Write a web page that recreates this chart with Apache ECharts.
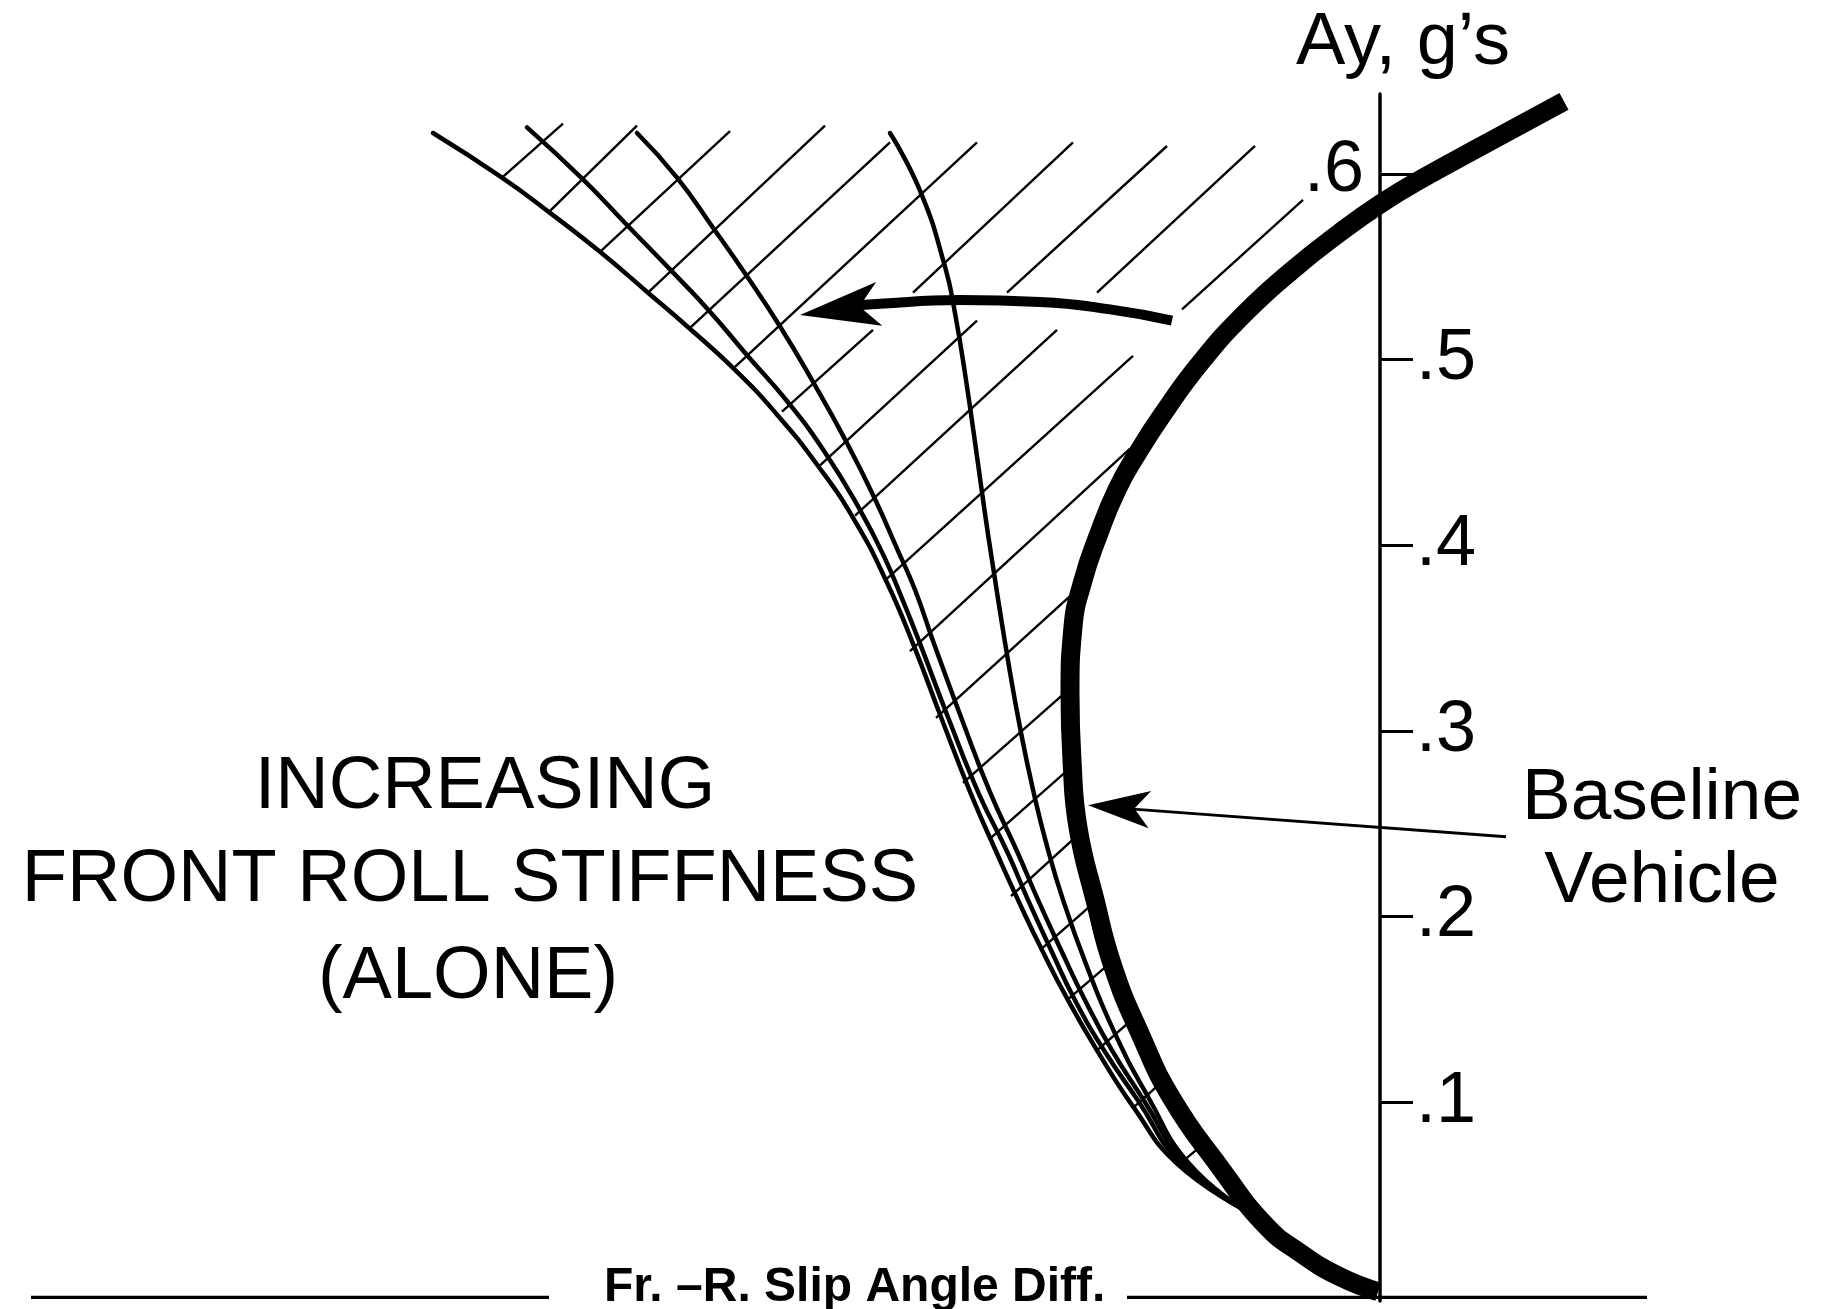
<!DOCTYPE html>
<html>
<head>
<meta charset="utf-8">
<title>Increasing front roll stiffness</title>
<script src="https://cdn.jsdelivr.net/npm/echarts@6/dist/echarts.min.js"></script>
<style>
  html, body { margin: 0; padding: 0; background: #fff; }
  #main { width: 1838px; height: 1309px; }
</style>
</head>
<body>
<div id="main"></div>
<script>
var FONT = '"Liberation Sans", Arial, sans-serif';

// x: front - rear slip angle difference (arbitrary units, 0 on the Ay axis), y: Ay in g's
var yTickValues = [0.1, 0.2, 0.3, 0.4, 0.5, 0.6];
var yLabelValues = [0.1, 0.2, 0.3, 0.4, 0.5];

// baseline vehicle (heavy curve), from the origin up
var baselineVehicle = [
  [-0.02, -0.002], [-0.40, 0.006], [-0.80, 0.019], [-1.15, 0.034], [-1.60, 0.065],
  [-2.07, 0.101], [-2.40, 0.137], [-2.67, 0.173], [-2.85, 0.209], [-3.02, 0.248],
  [-3.08, 0.284], [-3.10, 0.320], [-3.07, 0.356], [-2.97, 0.381], [-2.82, 0.405],
  [-2.63, 0.430], [-2.42, 0.450], [-2.18, 0.470], [-1.80, 0.498], [-1.35, 0.525],
  [-0.88, 0.548], [-0.41, 0.568], [0.01, 0.584], [0.44, 0.598], [1.05, 0.616], [1.84, 0.639]
];

// increasing front roll stiffness, stiffest first (leftmost)
var stiffA = [
  [-9.47, 0.622], [-8.78, 0.598], [-8.30, 0.579], [-7.80, 0.558], [-7.32, 0.536],
  [-6.91, 0.517], [-6.48, 0.496], [-6.04, 0.471], [-5.61, 0.442], [-5.25, 0.413],
  [-4.94, 0.381], [-4.67, 0.347], [-4.38, 0.306], [-4.09, 0.266], [-3.83, 0.234],
  [-3.62, 0.209], [-3.38, 0.182], [-3.12, 0.155], [-2.83, 0.128], [-2.46, 0.097],
  [-2.03, 0.067], [-1.35, 0.042]
];
var stiffB = [
  [-8.53, 0.625], [-7.97, 0.597], [-7.54, 0.573], [-7.09, 0.548], [-6.72, 0.527],
  [-6.34, 0.503], [-5.92, 0.477], [-5.55, 0.450], [-5.21, 0.420], [-4.96, 0.394],
  [-4.77, 0.370], [-4.60, 0.347], [-4.31, 0.306], [-4.01, 0.266], [-3.72, 0.234],
  [-3.52, 0.209], [-3.29, 0.182], [-3.05, 0.155], [-2.76, 0.128], [-2.42, 0.101],
  [-1.99, 0.067], [-1.35, 0.042]
];
var stiffC = [
  [-7.43, 0.622], [-7.03, 0.598], [-6.67, 0.571], [-6.32, 0.544], [-5.99, 0.517],
  [-5.66, 0.487], [-5.35, 0.457], [-5.06, 0.426], [-4.82, 0.397], [-4.65, 0.376],
  [-4.46, 0.347], [-4.18, 0.306], [-3.90, 0.267], [-3.62, 0.234], [-3.42, 0.209],
  [-3.19, 0.182], [-2.95, 0.155], [-2.68, 0.128], [-2.36, 0.101], [-1.95, 0.067],
  [-1.35, 0.042]
];
var stiffD = [
  [-4.90, 0.622], [-4.60, 0.591], [-4.35, 0.550], [-4.25, 0.525], [-4.14, 0.489],
  [-4.02, 0.444], [-3.95, 0.417], [-3.88, 0.392], [-3.72, 0.338], [-3.59, 0.299],
  [-3.46, 0.266], [-3.34, 0.240], [-3.17, 0.209], [-2.93, 0.173], [-2.65, 0.137],
  [-2.32, 0.103], [-1.91, 0.067], [-1.35, 0.042]
];

// hatching of the shaded region: [x1, y1, x2, y2]
var hatch = [
  [-8.78, 0.598, -8.17, 0.627], [-8.32, 0.579, -7.43, 0.626], [-7.80, 0.558, -6.50, 0.623],
  [-7.32, 0.536, -5.55, 0.626], [-6.90, 0.517, -4.90, 0.617], [-6.45, 0.496, -4.03, 0.617],
  [-5.98, 0.472, -5.07, 0.516], [-4.67, 0.536, -3.07, 0.617],
  [-5.60, 0.443, -4.03, 0.521], [-3.73, 0.536, -2.13, 0.615],
  [-5.25, 0.416, -3.23, 0.516], [-2.83, 0.536, -1.25, 0.615],
  [-4.93, 0.382, -2.47, 0.502], [-1.98, 0.527, -0.77, 0.586],
  [-4.70, 0.343, -2.50, 0.452], [-4.44, 0.307, -3.05, 0.375], [-4.17, 0.272, -3.12, 0.322],
  [-3.90, 0.242, -3.10, 0.280], [-3.69, 0.211, -3.02, 0.244], [-3.40, 0.182, -2.87, 0.207],
  [-3.13, 0.155, -2.70, 0.175], [-2.83, 0.128, -2.47, 0.145], [-2.47, 0.097, -2.18, 0.111],
  [-2.02, 0.066, -1.80, 0.076]
];

// x-axis rule, broken around its title
var ruleLeft = [[-13.49, -0.005], [-8.31, -0.005]];
var ruleRight = [[-2.53, -0.005], [2.67, -0.005]];

// curved arrow (tail to head) and its tip
var stiffnessArrow = [[-2.08, 0.521], [-2.70, 0.527], [-3.40, 0.531], [-4.20, 0.532], [-5.00, 0.530], [-5.45, 0.528]];
var stiffnessTip = [-5.80, 0.524];
// pointer from the "Baseline Vehicle" label
var baselineArrow = [[1.26, 0.243], [-2.50, 0.258]];
var baselineTip = [-2.92, 0.260];

var chart = echarts.init(document.getElementById('main'));

function curve(data, width, z, cap) {
  return {
    type: 'line', data: data, showSymbol: false, symbol: 'none', smooth: 0.5,
    clip: false, z: z, silent: true,
    lineStyle: { color: '#000', width: width, cap: cap || 'round', join: 'round' }
  };
}

function titleText(text, cx, top, size, lineHeight) {
  return {
    text: text, left: cx - 5, top: top, textAlign: 'center',
    textStyle: { fontFamily: FONT, fontSize: size, fontWeight: 'normal', color: '#000', lineHeight: lineHeight }
  };
}

var option = {
  backgroundColor: '#fff',
  animation: false,
  title: [
    titleText('INCREASING', 485, 736, 74, 93),
    titleText('FRONT ROLL STIFFNESS', 470, 829, 74, 93),
    titleText('(ALONE)', 468, 926, 74, 93),
    titleText('Baseline\nVehicle', 1662, 752, 73, 83)
  ],
  grid: { left: 30, right: 188, top: 94, bottom: 8, outerBoundsMode: 'none' },
  xAxis: {
    type: 'value', min: -13.5, max: 2.7,
    axisLine: { show: false, onZero: false },
    axisTick: { show: false }, axisLabel: { show: false }, splitLine: { show: false }
  },
  yAxis: {
    type: 'value', min: -0.007, max: 0.643, position: 'right', offset: -270,
    name: 'Ay, g\u2019s', nameLocation: 'end', nameGap: 13,
    nameTextStyle: { fontFamily: FONT, fontSize: 74, color: '#000', lineHeight: 74, padding: [0, 0, 0, 46] },
    axisLine: { show: true, onZero: false, lineStyle: { color: '#000', width: 3.5 } },
    axisTick: { show: true, inside: false, length: 33, customValues: yTickValues, lineStyle: { color: '#000', width: 3 } },
    axisLabel: {
      show: true, inside: false, margin: 36, customValues: yLabelValues,
      fontFamily: FONT, fontSize: 72, color: '#000',
      formatter: function (v) { return '.' + Math.round(v * 10); }
    },
    splitLine: { show: false }
  },
  series: [
    {
      type: 'lines', coordinateSystem: 'cartesian2d', z: 1, silent: true,
      lineStyle: { color: '#000', width: 2.4, opacity: 1 },
      data: hatch.map(function (h) { return { coords: [[h[0], h[1]], [h[2], h[3]]] }; })
    },
    curve(stiffA, 4.5, 2),
    curve(stiffB, 4.5, 2),
    curve(stiffC, 4.5, 2),
    curve(stiffD, 4.5, 2),
    curve(ruleLeft, 3.3, 2, 'butt'),
    curve(ruleRight, 3.3, 2, 'butt'),
    curve(baselineVehicle, 19, 4, 'butt'),
    curve(stiffnessArrow, 10, 5, 'butt'),
    curve(baselineArrow, 2.8, 5, 'butt'),
    {
      type: 'scatter', clip: false, z: 6, silent: true, symbol: 'arrow',
      itemStyle: { color: '#000', opacity: 1 },
      data: [
        { value: stiffnessTip, symbolSize: [33, 80], symbolRotate: 98 },
        { value: baselineTip, symbolSize: [28, 62], symbolRotate: 86 }
      ]
    },
    {
      type: 'scatter', symbolSize: 0, clip: false, z: 6, silent: true,
      itemStyle: { opacity: 1 },
      data: [
        {
          value: [0, 0.6],
          label: { show: true, position: 'left', distance: 16, offset: [0, -3], formatter: '.6',
            fontFamily: FONT, fontSize: 72, color: '#000', opacity: 1 }
        },
        {
          value: ruleLeft[1],
          label: { show: true, position: 'right', distance: 55, offset: [0, -10], formatter: 'Fr. \u2013R. Slip Angle Diff.',
            fontFamily: FONT, fontSize: 48, fontWeight: 'bold', color: '#000', opacity: 1 }
        }
      ]
    }
  ]
};

chart.setOption(option);
</script>
</body>
</html>
